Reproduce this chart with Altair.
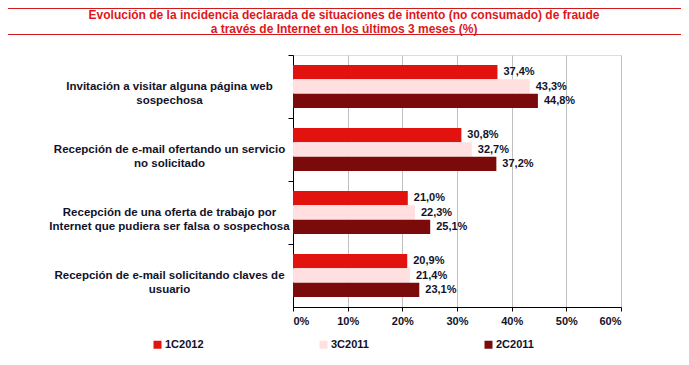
import altair as alt
import pandas as pd

# ---- data ----
categories = [
    "Invitación a visitar alguna página web\nsospechosa",
    "Recepción de e-mail ofertando un servicio\nno solicitado",
    "Recepción de una oferta de trabajo por\nInternet que pudiera ser falsa o sospechosa",
    "Recepción de e-mail solicitando claves de\nusuario",
]
series = ["1C2012", "3C2011", "2C2011"]
v_1c2012 = [37.4, 30.8, 21.0, 20.9]
v_3c2011 = [43.3, 32.7, 22.3, 21.4]
v_2c2011 = [44.8, 37.2, 25.1, 23.1]
x_ticks = [0, 10, 20, 30, 40, 50, 60]
title_lines = [
    "Evolución de la incidencia declarada de situaciones de intento (no consumado) de fraude",
    "a través de Internet en los últimos 3 meses (%)",
]
colors = ["#e2130f", "#ffdfe0", "#7b0b0b"]

rows = []
for s, vals in zip(series, [v_1c2012, v_3c2011, v_2c2011]):
    for c, v in zip(categories, vals):
        rows.append({"categoria": c, "serie": s, "valor": v})
df = pd.DataFrame(rows)

FONT = "Liberation Sans"
TXT = "#12122a"

y_enc = alt.Y(
    "categoria:N",
    sort=categories,
    scale=alt.Scale(paddingInner=20 / 63, paddingOuter=10 / 63),
    axis=alt.Axis(
        title=None,
        labelAlign="center",
        labelBaseline="middle",
        labelPadding=119,
        labelOffset=31.5,
        tickOffset=-31.5,
        labelExpr="split(datum.label, '\\n')",
        labelFont=FONT,
        labelFontSize=11.5,
        labelFontWeight="bold",
        labelColor=TXT,
        labelLineHeight=14,
        labelLimit=400,
        tickSize=5,
        tickColor="black",
        domainColor="black",
        grid=False,
    ),
)
yoff = alt.YOffset("serie:N", sort=series, scale=alt.Scale(paddingInner=0, paddingOuter=0))
x_enc = alt.X(
    "valor:Q",
    scale=alt.Scale(domain=[0, 60], nice=False),
    axis=alt.Axis(
        title=None,
        values=x_ticks,
        labelExpr="datum.value + '%'",
        grid=True,
        gridColor="#c0c0c0",
        tickSize=4,
        tickColor="black",
        domainColor="black",
        labelFont=FONT,
        labelFontSize=11,
        labelFontWeight="bold",
        labelColor=TXT,
        labelPadding=4,
    ),
)

bars = alt.Chart(df).mark_bar().encode(
    y=y_enc,
    yOffset=yoff,
    x=x_enc,
    color=alt.Color(
        "serie:N",
        sort=series,
        scale=alt.Scale(domain=series, range=colors),
        legend=alt.Legend(
            orient="none",
            legendX=-141,
            legendY=284,
            direction="horizontal",
            title=None,
            symbolType="square",
            symbolSize=64,
            symbolStrokeWidth=0,
            labelFont=FONT,
            labelFontSize=11,
            labelFontWeight="bold",
            labelColor=TXT,
            labelOffset=2,
            columnPadding=114,
        ),
    ),
)

labels = alt.Chart(df).transform_calculate(
    etiqueta="replace(format(datum.valor, '.1f'), '.', ',') + '%'"
).mark_text(
    align="left", baseline="middle", dx=6, font=FONT, fontSize=11, fontWeight="bold", color=TXT
).encode(
    y=alt.Y("categoria:N", sort=categories),
    yOffset=alt.YOffset("serie:N", sort=series),
    x=alt.X("valor:Q"),
    text="etiqueta:N",
)

one = pd.DataFrame({"k": [0]})
title = alt.Chart(one).mark_text(
    align="center", baseline="middle", font=FONT, fontSize=12,
    fontWeight="bold", color="#e0161b", lineHeight=13.5
).encode(x=alt.value(51), y=alt.value(-40), text=alt.value(title_lines))

rule_top = alt.Chart(one).mark_rule(color="#d2191c", strokeWidth=1.2).encode(
    x=alt.value(-285), x2=alt.value(390), y=alt.value(-46.6)
)
rule_bot = alt.Chart(one).mark_rule(color="#d2191c", strokeWidth=1.2).encode(
    x=alt.value(-285), x2=alt.value(390), y=alt.value(-20.5)
)

chart = alt.layer(bars, labels, title, rule_top, rule_bot).properties(
    width=328,
    height=252,
    autosize=alt.AutoSizeParams(type="none"),
    padding={"left": 285, "top": 47, "right": 60, "bottom": 50},
).configure_view(stroke=None).configure(background="white")

chart.save("out.html", embed_options={"renderer": "svg", "actions": False})
